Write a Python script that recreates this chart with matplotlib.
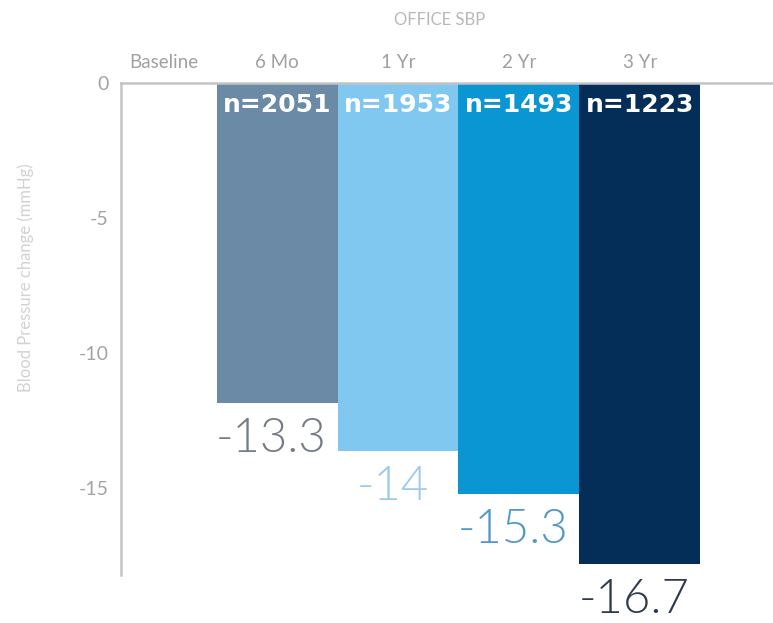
import matplotlib
matplotlib.use("Agg")
import matplotlib.pyplot as plt
from matplotlib.transforms import ScaledTranslation

categories = ["Baseline", "6 Mo", "1 Yr", "2 Yr", "3 Yr"]
bar_values = [-11.85, -13.6, -15.2, -17.8]
value_labels = ["-13.3", "-14", "-15.3", "-16.7"]    # printed values
n_labels = ["n=2051", "n=1953", "n=1493", "n=1223"]
yticks = [0, -5, -10, -15]
ytick_labels = ["0", "-5", "-10", "-15"]

bar_colors = ["#6a8aa6", "#80c8f0", "#0a96d2", "#042e58"]
label_colors = ["#737c86", "#9ccae8", "#4f98c8", "#2e3a4c"]

plt.rcParams['font.family'] = ['Lato', 'DejaVu Sans']

fig = plt.figure(figsize=(7.73, 6.23), dpi=100)
W, H = 773, 623
ax = fig.add_axes([121 / W, 1 - 575 / H, (W - 121) / W, (575 - 83) / H])

xpos = list(range(1, len(categories)))
ax.bar(xpos, bar_values, width=1.0, color=bar_colors, align='center', zorder=2)

ax.set_xlim(-0.29, 5.1)
ax.set_ylim(-18.2, 0)

for s in ["right", "bottom"]:
    ax.spines[s].set_visible(False)
for s in ["left", "top"]:
    ax.spines[s].set_color("#c4c4c4")
    ax.spines[s].set_linewidth(1.8)

ax.set_yticks(yticks)
ax.set_yticklabels(ytick_labels, fontsize=14, color="#a3a3a3")
ax.tick_params(axis='y', length=0, pad=9)

ax.xaxis.set_ticks_position('top')
ax.set_xticks(range(len(categories)))
ax.set_xticklabels(categories, fontsize=13.5, color="#a0a0a0")
ax.tick_params(axis='x', length=0, pad=9)
base_lbl = ax.get_xticklabels()[0]
base_lbl.set_transform(base_lbl.get_transform() + ScaledTranslation(0.08, 0, fig.dpi_scale_trans))

ax.set_ylabel("Blood Pressure change (mmHg)", fontsize=12, color="#d2d2d2")
ax.yaxis.set_label_coords(-(121 - 34) / (W - 121), 1 - (278 - 83) / (575 - 83))

fig.text(440 / W, 1 - 20 / H, "OFFICE SBP", ha='center', va='center', fontsize=12, color="#b8b8b8")

for x, v, lab, nl, c in zip(xpos, bar_values, value_labels, n_labels, label_colors):
    ax.annotate(nl, (x, 0), xytext=(0, -16), textcoords='offset points',
                ha='center', va='center', fontsize=18, fontweight='bold', color='white',
                family='DejaVu Sans', zorder=3)
    ax.annotate(lab, (x, v), xytext=(-4, -26), textcoords='offset points',
                ha='center', va='center', fontsize=34, fontweight=300, color=c,
                annotation_clip=False)

fig.savefig("out.png", dpi=100)
